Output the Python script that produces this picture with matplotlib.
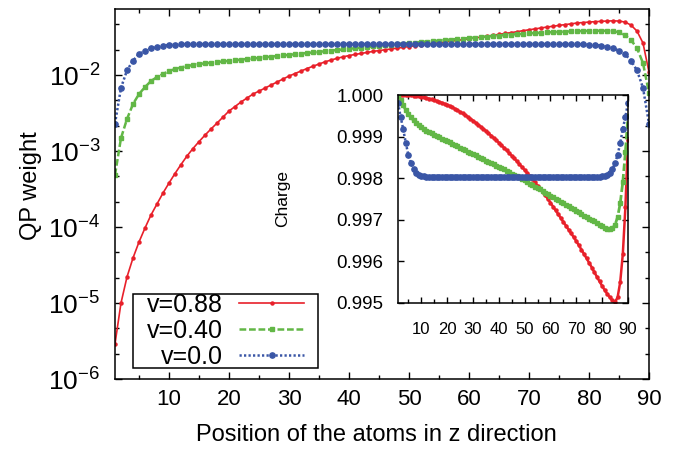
import numpy as np
import matplotlib
matplotlib.use('Agg')
import matplotlib.pyplot as plt
from matplotlib.ticker import MultipleLocator, LogLocator, NullFormatter, FormatStrFormatter
from matplotlib.patches import Rectangle

plt.rcParams['font.family'] = ['Liberation Sans', 'DejaVu Sans']
plt.rcParams['mathtext.fontset'] = 'custom'
plt.rcParams['mathtext.rm'] = 'Liberation Sans'
plt.rcParams['mathtext.it'] = 'Liberation Sans:italic'
plt.rcParams['mathtext.bf'] = 'Liberation Sans:bold'
plt.rcParams['mathtext.sf'] = 'Liberation Sans'

# atom index along z
atoms = np.arange(1, 91)
labels = ['v=0.88', 'v=0.40', 'v=0.0']

# QP weight (main panel, log scale)
qp_v088 = [2.89e-6, 1.0e-5, 2.2e-5, 3.91e-5, 6.35e-5, 9.7e-5, 1.44e-4, 2.01e-4, 2.8e-4, 3.79e-4,
           5.06e-4, 6.64e-4, 8.6e-4, 1.08e-3, 1.33e-3, 1.62e-3, 1.95e-3, 2.33e-3, 2.8e-3, 3.36e-3,
           3.85e-3, 4.42e-3, 4.98e-3, 5.62e-3, 6.15e-3, 6.74e-3, 7.38e-3, 8.09e-3, 8.86e-3, 9.7e-3,
           1.047e-2, 1.129e-2, 1.218e-2, 1.306e-2, 1.396e-2, 1.493e-2, 1.575e-2, 1.66e-2, 1.735e-2, 1.806e-2,
           1.866e-2, 1.924e-2, 1.983e-2, 2.046e-2, 2.1e-2, 2.153e-2, 2.205e-2, 2.26e-2, 2.314e-2, 2.37e-2,
           2.43e-2, 2.48e-2, 2.54e-2, 2.6e-2, 2.66e-2, 2.72e-2, 2.79e-2, 2.85e-2, 2.93e-2, 3.0e-2,
           3.08e-2, 3.16e-2, 3.25e-2, 3.34e-2, 3.43e-2, 3.53e-2, 3.62e-2, 3.72e-2, 3.84e-2, 3.94e-2,
           4.05e-2, 4.17e-2, 4.28e-2, 4.39e-2, 4.5e-2, 4.61e-2, 4.72e-2, 4.84e-2, 4.91e-2, 4.98e-2,
           5.04e-2, 5.09e-2, 5.14e-2, 5.17e-2, 5.14e-2, 4.98e-2, 4.55e-2, 3.79e-2, 2.64e-2, 1.095e-2]
qp_v040 = [4.83e-4, 1.48e-3, 2.64e-3, 4.15e-3, 5.62e-3, 6.95e-3, 8.34e-3, 9.41e-3, 1.031e-2, 1.129e-2,
           1.2e-2, 1.256e-2, 1.313e-2, 1.355e-2, 1.396e-2, 1.426e-2, 1.457e-2, 1.483e-2, 1.51e-2, 1.538e-2,
           1.566e-2, 1.595e-2, 1.625e-2, 1.654e-2, 1.684e-2, 1.715e-2, 1.747e-2, 1.778e-2, 1.811e-2, 1.844e-2,
           1.878e-2, 1.913e-2, 1.948e-2, 1.983e-2, 2.02e-2, 2.057e-2, 2.094e-2, 2.133e-2, 2.172e-2, 2.212e-2,
           2.253e-2, 2.294e-2, 2.336e-2, 2.378e-2, 2.422e-2, 2.466e-2, 2.51e-2, 2.56e-2, 2.6e-2, 2.64e-2,
           2.68e-2, 2.72e-2, 2.76e-2, 2.8e-2, 2.84e-2, 2.89e-2, 2.93e-2, 2.98e-2, 3.02e-2, 3.07e-2,
           3.11e-2, 3.16e-2, 3.21e-2, 3.26e-2, 3.31e-2, 3.36e-2, 3.41e-2, 3.45e-2, 3.49e-2, 3.54e-2,
           3.57e-2, 3.6e-2, 3.64e-2, 3.67e-2, 3.7e-2, 3.73e-2, 3.76e-2, 3.78e-2, 3.8e-2, 3.82e-2,
           3.83e-2, 3.83e-2, 3.82e-2, 3.77e-2, 3.66e-2, 3.36e-2, 2.89e-2, 2.26e-2, 1.44e-2, 5.8e-3]
qp_v000 = [2.3e-3, 6.8e-3, 1.15e-2, 1.55e-2, 1.88e-2, 2.1e-2, 2.25e-2, 2.36e-2, 2.44e-2, 2.49e-2,
           2.52e-2, 2.54e-2, 2.55e-2, 2.55e-2, 2.55e-2, 2.55e-2, 2.55e-2, 2.55e-2, 2.55e-2, 2.55e-2,
           2.55e-2, 2.55e-2, 2.55e-2, 2.55e-2, 2.55e-2, 2.55e-2, 2.55e-2, 2.55e-2, 2.55e-2, 2.55e-2,
           2.55e-2, 2.55e-2, 2.55e-2, 2.55e-2, 2.55e-2, 2.55e-2, 2.55e-2, 2.55e-2, 2.55e-2, 2.55e-2,
           2.55e-2, 2.55e-2, 2.55e-2, 2.55e-2, 2.55e-2, 2.55e-2, 2.55e-2, 2.55e-2, 2.55e-2, 2.55e-2,
           2.55e-2, 2.55e-2, 2.55e-2, 2.55e-2, 2.55e-2, 2.55e-2, 2.55e-2, 2.55e-2, 2.55e-2, 2.55e-2,
           2.55e-2, 2.55e-2, 2.55e-2, 2.55e-2, 2.55e-2, 2.55e-2, 2.55e-2, 2.55e-2, 2.55e-2, 2.55e-2,
           2.55e-2, 2.55e-2, 2.55e-2, 2.55e-2, 2.55e-2, 2.55e-2, 2.55e-2, 2.55e-2, 2.54e-2, 2.52e-2,
           2.49e-2, 2.44e-2, 2.36e-2, 2.25e-2, 2.1e-2, 1.88e-2, 1.55e-2, 1.15e-2, 6.8e-3, 2.3e-3]

# charge (inset)
ch_v088 = [1.0, 1.0, 1.0, 0.999998, 0.999995, 0.99999, 0.999983, 0.999976, 0.999966, 0.999954,
           0.999942, 0.999928, 0.999911, 0.999894, 0.999875, 0.999856, 0.999834, 0.999813, 0.999788, 0.999764,
           0.999736, 0.999704, 0.999671, 0.999635, 0.999596, 0.999558, 0.999517, 0.999474, 0.99943, 0.999385,
           0.999337, 0.999288, 0.999238, 0.999188, 0.999135, 0.999082, 0.999026, 0.998971, 0.998913, 0.998856,
           0.998796, 0.998733, 0.998671, 0.998606, 0.998541, 0.998474, 0.998406, 0.998337, 0.998267, 0.998197,
           0.998125, 0.998053, 0.997976, 0.997899, 0.997822, 0.997745, 0.997668, 0.997589, 0.9975, 0.997409,
           0.997317, 0.997226, 0.997135, 0.997041, 0.996947, 0.996856, 0.996764, 0.996673, 0.996582, 0.996486,
           0.996385, 0.996281, 0.996175, 0.99607, 0.995962, 0.995853, 0.99574, 0.995625, 0.995517, 0.995409,
           0.995308, 0.995216, 0.995132, 0.99506, 0.995012, 0.995144, 0.995505, 0.996178, 0.997308, 0.998918]
ch_v040 = [0.99999, 0.99987, 0.99975, 0.99964, 0.99954, 0.99946, 0.99939, 0.99933, 0.99927, 0.99922,
           0.99918, 0.99914, 0.99911, 0.99908, 0.99905, 0.99901, 0.99898, 0.99895, 0.99892, 0.99889,
           0.99886, 0.99883, 0.9988, 0.99877, 0.99873, 0.9987, 0.99867, 0.99864, 0.99861, 0.99858,
           0.99855, 0.99852, 0.99849, 0.99845, 0.99842, 0.99839, 0.99836, 0.99833, 0.9983, 0.99827,
           0.99824, 0.99821, 0.99818, 0.99814, 0.99811, 0.99808, 0.99805, 0.99802, 0.99798, 0.99795,
           0.99791, 0.99787, 0.99784, 0.9978, 0.99776, 0.99773, 0.99769, 0.99765, 0.99762, 0.99758,
           0.99754, 0.99751, 0.99747, 0.99743, 0.9974, 0.99736, 0.99732, 0.99729, 0.99725, 0.99721,
           0.99718, 0.99714, 0.9971, 0.99707, 0.99703, 0.99699, 0.99696, 0.99692, 0.99688, 0.99684,
           0.99681, 0.99678, 0.99677, 0.9968, 0.99688, 0.99707, 0.9974, 0.99791, 0.99863, 0.9995]
ch_v000 = [0.99981, 0.99948, 0.99918, 0.99885, 0.99856, 0.99836, 0.99822, 0.99813, 0.99808, 0.99806,
           0.99805, 0.99804, 0.99804, 0.99804, 0.99804, 0.99804, 0.99804, 0.99804, 0.99804, 0.99804,
           0.99804, 0.99804, 0.99804, 0.99804, 0.99804, 0.99804, 0.99804, 0.99804, 0.99804, 0.99804,
           0.99804, 0.99804, 0.99804, 0.99804, 0.99804, 0.99804, 0.99804, 0.99804, 0.99804, 0.99804,
           0.99804, 0.99804, 0.99804, 0.99804, 0.99804, 0.99804, 0.99804, 0.99804, 0.99804, 0.99804,
           0.99804, 0.99804, 0.99804, 0.99804, 0.99804, 0.99804, 0.99804, 0.99804, 0.99804, 0.99804,
           0.99804, 0.99804, 0.99804, 0.99804, 0.99804, 0.99804, 0.99804, 0.99804, 0.99804, 0.99804,
           0.99804, 0.99804, 0.99804, 0.99804, 0.99804, 0.99804, 0.99804, 0.99804, 0.99804, 0.99805,
           0.99806, 0.99808, 0.99813, 0.99822, 0.99836, 0.99856, 0.99885, 0.99918, 0.99948, 0.99981]

RED = '#e8202a'
GREEN = '#62b746'
BLUE = '#3a56a6'

fig = plt.figure(figsize=(6.82, 4.55), dpi=100)
ax = fig.add_axes([0.1686, 0.167, 0.783, 0.8132])

ax.plot(atoms, qp_v088, color=RED, lw=1.2, marker='o', ms=2.2, label=labels[0])
ax.plot(atoms, qp_v040, color=GREEN, lw=1.8, ls=(0, (2.7, 1.1)), marker='s', ms=3.2, label=labels[1])
ax.plot(atoms, qp_v000, color=BLUE, lw=1.8, ls=(0, (0.9, 0.9)), marker='o', ms=3.8, label=labels[2])

ax.set_yscale('log')
ax.set_xlim(1, 90)
ax.set_ylim(1e-6, 0.074)
ax.xaxis.set_major_locator(MultipleLocator(10))
ax.xaxis.set_minor_locator(MultipleLocator(5))
ax.yaxis.set_major_locator(LogLocator(base=10, numticks=10))
ax.yaxis.set_minor_locator(LogLocator(base=10, subs=(2.15, 4.64), numticks=10))
ax.yaxis.set_minor_formatter(NullFormatter())
ax.tick_params(which='both', direction='in', top=True, right=True, width=1)
ax.tick_params(which='major', length=5)
ax.tick_params(which='minor', length=3)
ax.tick_params(axis='y', labelsize=19, pad=10.5)
ax.tick_params(axis='x', labelsize=16, pad=7)
for s in ax.spines.values():
    s.set_linewidth(1.1)

ax.set_xlabel('Position of the atoms in z direction', fontsize=17)
ax.xaxis.set_label_coords(0.49, -0.122)
ax.set_ylabel('QP weight', fontsize=17)
ax.yaxis.set_label_coords(-0.137, 0.524)

leg = ax.legend(loc='center', bbox_to_anchor=(0.207, 0.13), frameon=False, fontsize=18,
                markerfirst=False, numpoints=1, handlelength=2.6, handletextpad=0.64,
                borderpad=0, labelspacing=0.08, borderaxespad=0)
# gnuplot style: labels right-aligned against the samples
for col in leg._legend_handle_box.get_children():
    col.align = 'right'

# inset: charge
axi = fig.add_axes([0.5836, 0.3341, 0.3372, 0.4571])
axi.plot(atoms, ch_v088, color=RED, lw=1.8, marker='o', ms=2.2)
axi.plot(atoms, ch_v040, color=GREEN, lw=2.0, ls=(0, (2.7, 1.1)), marker='s', ms=3.2)
axi.plot(atoms, ch_v000, color=BLUE, lw=1.8, ls=(0, (0.9, 0.9)), marker='o', ms=3.8)
axi.set_xlim(1, 90)
axi.set_ylim(0.995, 1.0)
axi.xaxis.set_major_locator(MultipleLocator(10))
axi.xaxis.set_minor_locator(MultipleLocator(5))
axi.yaxis.set_major_locator(MultipleLocator(0.001))
axi.yaxis.set_major_formatter(FormatStrFormatter('%.3f'))
axi.tick_params(which='both', direction='in', top=True, right=True, width=1)
axi.tick_params(which='major', length=4)
axi.tick_params(which='minor', length=3)
axi.tick_params(axis='y', labelsize=13.5, pad=10.5)
axi.tick_params(axis='x', labelsize=12, pad=14)
for s in axi.spines.values():
    s.set_linewidth(1.1)
axi.set_ylabel('Charge', fontsize=12.5)
axi.yaxis.set_label_coords(-0.47, 0.5)

# legend frame, wider sideways than the text block, like the original
fig.canvas.draw()
bb = leg.get_window_extent().transformed(ax.transAxes.inverted())
dx = 14.0 / 534
dy = -1.0 / 370
ax.add_patch(Rectangle((bb.x0 - dx, bb.y0 - dy), bb.width + 2 * dx, bb.height + 2 * dy,
                       transform=ax.transAxes, fill=False, ec='black', lw=1.1, zorder=6))

fig.savefig('out.png', dpi=100)
